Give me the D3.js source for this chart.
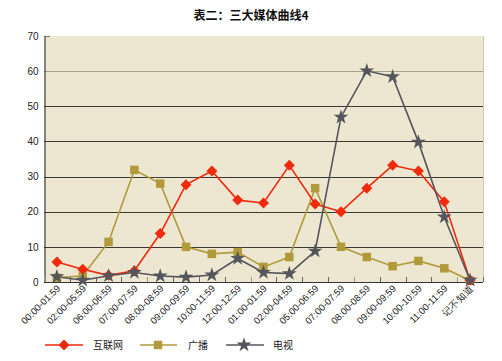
<!DOCTYPE html>
<html><head><meta charset="utf-8">
<script src="https://cdn.jsdelivr.net/npm/d3@7"></script>
<style>body{margin:0;background:#fff}svg{display:block}</style>
</head><body><svg id="c" width="502" height="361"></svg>
<script>
const categories = ["00:00-01:59","02:00-05:59","06:00-06:59","07:00-07:59","08:00-08:59","09:00-09:59","10:00-11:59","12:00-12:59","01:00-01:59","02:00-04:59","05:00-06:59","07:00-07:59","08:00-08:59","09:00-09:59","10:00-10:59","11:00-11:59","记不知道"];
const internet = [5.7,3.6,1.9,3.2,13.8,27.7,31.6,23.3,22.5,33.2,22.2,20.0,26.7,33.2,31.6,22.8,0.5];
const radio = [1.2,1.8,11.4,31.9,28.0,10.0,8.0,8.5,4.3,7.1,26.7,10.0,7.1,4.5,6.0,3.9,0.4];
const tv = [1.5,0.5,1.8,2.7,1.7,1.4,2.0,6.7,2.7,2.4,8.8,46.9,60.1,58.4,39.8,18.5,0.5];
const yTicks = [0,10,20,30,40,50,60,70];
const seriesNames = ["互联网","广播","电视"];
const title = "表二：三大媒体曲线4";

const svg = d3.select("#c");
const m = {l:44, r:483, t:36, b:282};
const idx = d3.range(categories.length);
const x = d3.scaleBand().domain(idx).range([m.l, m.r]);
const y = d3.scaleLinear().domain([0,70]).range([m.b, m.t]);
const cx = i => x(i) + x.bandwidth()/2;

svg.append("rect").attr("x",m.l).attr("y",m.t).attr("width",m.r-m.l).attr("height",m.b-m.t).attr("fill","#ede7d1");
svg.append("line").attr("x1",m.r+0.5).attr("x2",m.r+0.5).attr("y1",m.t).attr("y2",m.b).attr("stroke","#cfc8b2");

// grid
svg.append("g").selectAll("line").data(yTicks.filter(v=>v>0&&v<70)).join("line")
  .attr("x1",m.l).attr("x2",m.r).attr("y1",d=>Math.round(y(d))+0.5).attr("y2",d=>Math.round(y(d))+0.5)
  .attr("stroke",d=>d===60?"#a89f8c":"#3c3a34").attr("stroke-width",1);
svg.append("line").attr("x1",m.l).attr("x2",m.l+6).attr("y1",m.t+0.5).attr("y2",m.t+0.5).attr("stroke","#8a8578").attr("stroke-width",1.2);

// y axis
const ya = d3.axisLeft(y).tickValues(yTicks).tickSize(0).tickPadding(6);
const gy = svg.append("g").attr("transform",`translate(${m.l+0.5},0)`).call(ya);
gy.select(".domain").attr("stroke","#222");
gy.selectAll("text").attr("font-family","Arial, Liberation Sans, sans-serif").attr("font-size",10).attr("fill","#222");

// x axis
const xa = d3.axisBottom(x).tickSize(0).tickFormat("");
const gx = svg.append("g").attr("transform",`translate(0,${m.b+0.5})`).call(xa);
gx.select(".domain").attr("stroke","#333").attr("d",`M${m.l},0H${m.r}`);
svg.append("g").selectAll("line").data(d3.range(categories.length+1)).join("line")
  .attr("x1",i=>Math.round(m.l+i*x.bandwidth())+0.5).attr("x2",i=>Math.round(m.l+i*x.bandwidth())+0.5)
  .attr("y1",m.b).attr("y2",m.b-5).attr("stroke",(i)=>i%4===0?"#a09a8a":"#666");
svg.append("g").selectAll("text").data(idx).join("text")
  .attr("transform",i=>`translate(${cx(i)+4},${m.b+7}) rotate(-45)`)
  .attr("text-anchor","end").attr("font-family","Arial, Liberation Sans, sans-serif").attr("font-size",9.5).attr("fill","#222")
  .text(i=>categories[i]);

// title
svg.append("text").attr("x",251).attr("y",20).attr("text-anchor","middle")
  .attr("font-family","'Noto Sans CJK SC', sans-serif").attr("font-weight","bold").attr("font-size",12).attr("fill","#111").text(title);

const colors = ["#f02a0c","#b09a3c","#55555c"];
const line = d3.line().x((d,i)=>cx(i)).y(d=>y(d));
const diamond = "M0,-5.5L5.5,0L0,5.5L-5.5,0Z";
const square = d3.symbol().type(d3.symbolSquare).size(72)();
const star = d3.symbol().type(d3.symbolStar).size(68)();
const syms = [diamond, square, star];
const data = [internet, radio, tv];

[1,0,2].forEach(k=>{
  svg.append("path").datum(data[k]).attr("d",line).attr("fill","none").attr("stroke",colors[k]).attr("stroke-width",1.6);
});
[1,0,2].forEach(k=>{
  svg.append("g").selectAll("path").data(data[k]).join("path")
    .attr("transform",(d,i)=>`translate(${cx(i)},${y(d)})`)
    .attr("d",syms[k]).attr("fill",colors[k]);
});

// legend
const lg = [{x1:45,x2:83,mx:64,tx:93},{x1:140,x2:177,mx:158,tx:188},{x1:226,x2:264,mx:244,tx:273}];
lg.forEach((p,k)=>{
  const ly = 345;
  svg.append("line").attr("x1",p.x1).attr("x2",p.x2).attr("y1",ly).attr("y2",ly).attr("stroke",colors[k]).attr("stroke-width",1.6);
  svg.append("path").attr("d",syms[k]).attr("transform",`translate(${p.mx},${ly})`).attr("fill",colors[k]);
  svg.append("text").attr("x",p.tx).attr("y",ly+4).attr("font-family","'Noto Sans CJK SC', sans-serif").attr("font-size",10).attr("fill","#222").text(seriesNames[k]);
});
</script></body></html>
